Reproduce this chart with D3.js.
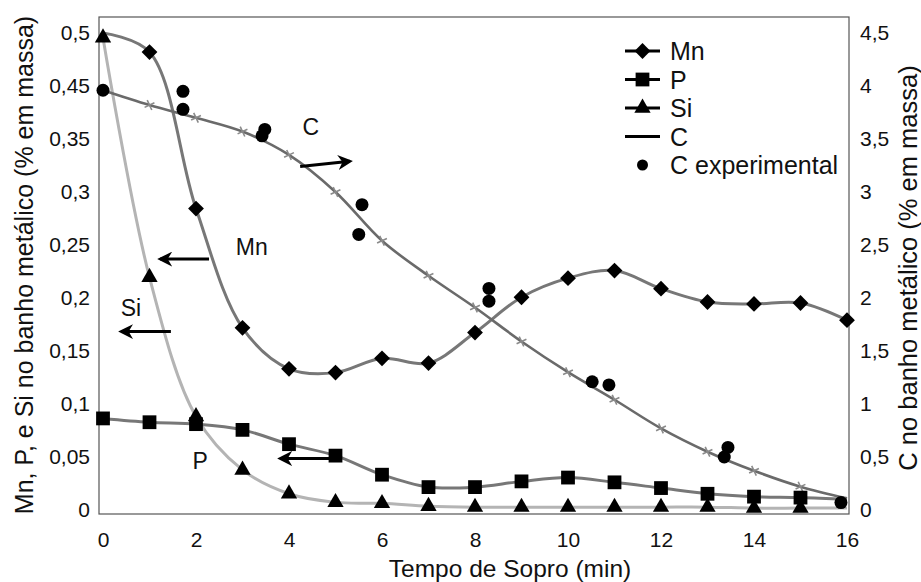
<!DOCTYPE html>
<html>
<head>
<meta charset="utf-8">
<script src="https://cdn.jsdelivr.net/npm/d3@7"></script>
<style>
  body { margin: 0; background: #fff; }
  text { font-family: "Liberation Sans", Arial, Helvetica, sans-serif; fill: #111; }
</style>
</head>
<body>
<svg id="chart"></svg>
<script>
const width = 921;
const height = 582;

// tempo de sopro (min)
const times = [0, 1, 2, 3, 4, 5, 6, 7, 8, 9, 10, 11, 12, 13, 14, 15, 16];

// Mn, P, Si in % massa (left axis)
const mnValues = [0.500, 0.480, 0.316, 0.191, 0.148, 0.144, 0.159, 0.154, 0.186, 0.223, 0.243, 0.251, 0.232, 0.218, 0.216, 0.217, 0.199];
const pValues = [0.096, 0.092, 0.090, 0.084, 0.069, 0.057, 0.037, 0.024, 0.024, 0.030, 0.034, 0.029, 0.023, 0.017, 0.014, 0.013, 0.011];
const siValues = [0.495, 0.244, 0.098, 0.042, 0.017, 0.008, 0.007, 0.004, 0.003, 0.003, 0.003, 0.003, 0.003, 0.003, 0.002, 0.002, 0.002];

// C model, % massa (right axis)
const cValues = [3.96, 3.82, 3.70, 3.57, 3.35, 3.00, 2.54, 2.21, 1.91, 1.59, 1.30, 1.04, 0.77, 0.55, 0.37, 0.22, 0.11];

// C experimental
const cExpTimes = [0, 1.72, 1.72, 3.48, 3.42, 5.57, 5.50, 8.30, 8.30, 10.52, 10.88, 13.44, 13.36, 15.87];
const cExpValues = [3.96, 3.95, 3.78, 3.59, 3.53, 2.88, 2.60, 2.09, 1.97, 1.21, 1.18, 0.59, 0.50, 0.07];

const xTicks = [0, 2, 4, 6, 8, 10, 12, 14, 16];
const rightTicks = [0, 0.5, 1, 1.5, 2, 2.5, 3, 3.5, 4, 4.5];
const rightLabels = ["0", "0,5", "1", "1,5", "2", "2,5", "3", "3,5", "4", "4,5"];
const leftLabels = ["0", "0,05", "0,1", "0,15", "0,2", "0,25", "0,3", "0,35", "0,45", "0,5"];

const legendItems = ["Mn", "P", "Si", "C", "C experimental"];

// annotations: label + arrow (axis tells which scale)
const notes = [
  { label: "C", axis: "R", lx: 4.47, ly: 3.62, x1: 4.24, y1: 3.24, x2: 5.31, y2: 3.29 },
  { label: "Mn", axis: "L", lx: 3.2, ly: 0.276, x1: 2.28, y1: 0.263, x2: 1.23, y2: 0.263 },
  { label: "Si", axis: "L", lx: 0.6, ly: 0.212, x1: 1.46, y1: 0.187, x2: 0.39, y2: 0.187 },
  { label: "P", axis: "L", lx: 2.09, ly: 0.052, x1: 4.95, y1: 0.054, x2: 3.81, y2: 0.054 }
];

const box = { left: 99, right: 849, top: 17, bottom: 514 };
const x = d3.scaleLinear().domain([0, 16]).range([103, 847]);
const yL = d3.scaleLinear().domain([0, 0.5]).range([510, 33]);
const yR = d3.scaleLinear().domain([0, 4.5]).range([510, 33]);

const svg = d3.select("#chart").attr("width", width).attr("height", height);

svg.append("rect").attr("width", width).attr("height", height).attr("fill", "#fff");

// frame
svg.append("rect")
  .attr("x", box.left).attr("y", box.top)
  .attr("width", box.right - box.left).attr("height", box.bottom - box.top)
  .attr("fill", "none").attr("stroke", "#555").attr("stroke-width", 1.2);

// axes (labels only)
const xAxis = d3.axisBottom(x).tickValues(xTicks).tickSize(0).tickPadding(0);
svg.append("g").attr("transform", "translate(0," + 532 + ")").call(xAxis)
  .call(g => g.select(".domain").remove())
  .selectAll("text").attr("font-size", 21).attr("dy", "0.71em");

const leftAxis = d3.axisLeft(yL)
  .tickValues(rightTicks.map(v => v / 9))
  .tickFormat((d, i) => leftLabels[i])
  .tickSize(0).tickPadding(0);
svg.append("g").attr("transform", "translate(" + 90 + ",0)").call(leftAxis)
  .call(g => g.select(".domain").remove())
  .selectAll("text").attr("font-size", 21);

const rightAxis = d3.axisRight(yR)
  .tickValues(rightTicks)
  .tickFormat((d, i) => rightLabels[i])
  .tickSize(0).tickPadding(0);
svg.append("g").attr("transform", "translate(" + 860 + ",0)").call(rightAxis)
  .call(g => g.select(".domain").remove())
  .selectAll("text").attr("font-size", 21);

svg.selectAll(".tick text").attr("fill", "#111").attr("font-family", "Liberation Sans, Arial, sans-serif");

// axis titles
svg.append("text")
  .attr("x", 510).attr("y", 577)
  .attr("text-anchor", "middle").attr("font-size", 24.5)
  .text("Tempo de Sopro (min)");

svg.append("text")
  .attr("transform", "translate(33,265) rotate(-90)")
  .attr("text-anchor", "middle").attr("font-size", 25)
  .text("Mn, P, e Si no banho metálico (% em massa)");

svg.append("text")
  .attr("transform", "translate(917,268) rotate(-90)")
  .attr("text-anchor", "middle").attr("font-size", 25.5)
  .text("C no banho metálico (% em massa)");

// series lines
const curve = d3.curveCatmullRom.alpha(0.5);
function seriesLine(values, yScale) {
  return d3.line().curve(curve)
    .x((d, i) => x(times[i]))
    .y(d => yScale(d))(values);
}

svg.append("path").attr("d", seriesLine(siValues, yL))
  .attr("fill", "none").attr("stroke", "#b4b4b4").attr("stroke-width", 3);
svg.append("path").attr("d", seriesLine(pValues, yL))
  .attr("fill", "none").attr("stroke", "#777").attr("stroke-width", 3);
svg.append("path").attr("d", seriesLine(mnValues, yL))
  .attr("fill", "none").attr("stroke", "#777").attr("stroke-width", 3);
svg.append("path").attr("d", seriesLine(cValues, yR))
  .attr("fill", "none").attr("stroke", "#6a6a6a").attr("stroke-width", 2.6);

// small crosses on C line
svg.append("g").selectAll("path")
  .data(cValues.slice(1, 16)).enter().append("path")
  .attr("transform", (d, i) => "translate(" + x(times[i + 1]) + "," + yR(d) + ") rotate(20)")
  .attr("d", d3.symbol(d3.symbolX, 40)())
  .attr("fill", "none").attr("stroke", "#8a8a8a").attr("stroke-width", 1.6);

// markers
const diamond = d3.symbol(d3.symbolSquare, 125)();
const square = d3.symbol(d3.symbolSquare, 190)();
const triangle = d3.symbol(d3.symbolTriangle, 115)();

svg.append("g").selectAll("path")
  .data(siValues.slice(0, 16)).enter().append("path")
  .attr("transform", (d, i) => "translate(" + x(times[i]) + "," + yL(d) + ")")
  .attr("d", triangle).attr("fill", "#000");

svg.append("g").selectAll("path")
  .data(pValues.slice(0, 16)).enter().append("path")
  .attr("transform", (d, i) => "translate(" + x(times[i]) + "," + yL(d) + ")")
  .attr("d", square).attr("fill", "#000");

svg.append("g").selectAll("path")
  .data(mnValues.slice(1)).enter().append("path")
  .attr("transform", (d, i) => "translate(" + x(times[i + 1]) + "," + yL(d) + ") rotate(45)")
  .attr("d", diamond).attr("fill", "#000");

svg.append("g").selectAll("circle")
  .data(cExpValues).enter().append("circle")
  .attr("cx", (d, i) => x(cExpTimes[i]))
  .attr("cy", d => yR(d))
  .attr("r", 6.5).attr("fill", "#000");

// annotations
svg.append("defs").append("marker")
  .attr("id", "arrow").attr("viewBox", "0 0 10 10")
  .attr("refX", 8).attr("refY", 5)
  .attr("markerWidth", 5).attr("markerHeight", 5)
  .attr("orient", "auto")
  .append("path").attr("d", "M0,0 L10,5 L0,10 L3,5 Z").attr("fill", "#000");

notes.forEach(n => {
  const ys = n.axis === "R" ? yR : yL;
  svg.append("line")
    .attr("x1", x(n.x1)).attr("y1", ys(n.y1))
    .attr("x2", x(n.x2)).attr("y2", ys(n.y2))
    .attr("stroke", "#000").attr("stroke-width", 3)
    .attr("marker-end", "url(#arrow)");
  svg.append("text")
    .attr("x", x(n.lx)).attr("y", ys(n.ly))
    .attr("dy", "0.36em").attr("text-anchor", "middle")
    .attr("font-size", 23)
    .text(n.label);
});

// legend
const legend = svg.append("g").attr("transform", "translate(" + 625 + "," + 51 + ")");
const rowH = 28.5;
const symbols = [diamond, square, triangle, null, null];
legendItems.forEach((name, i) => {
  const row = legend.append("g").attr("transform", "translate(0," + (i * rowH) + ")");
  if (i < 4) {
    row.append("line").attr("x1", 0).attr("x2", 35).attr("y1", 0).attr("y2", 0)
      .attr("stroke", "#000").attr("stroke-width", 3);
  }
  if (symbols[i]) {
    row.append("path")
      .attr("transform", "translate(17.5,0)" + (i === 0 ? " rotate(45)" : ""))
      .attr("d", symbols[i]).attr("fill", "#000");
  }
  if (i === 4) {
    row.append("circle").attr("cx", 17.5).attr("cy", 0).attr("r", 5.5).attr("fill", "#000");
  }
  row.append("text").attr("x", 45).attr("y", 0).attr("dy", "0.36em")
    .attr("font-size", 25).text(name);
});
</script>
</body>
</html>
